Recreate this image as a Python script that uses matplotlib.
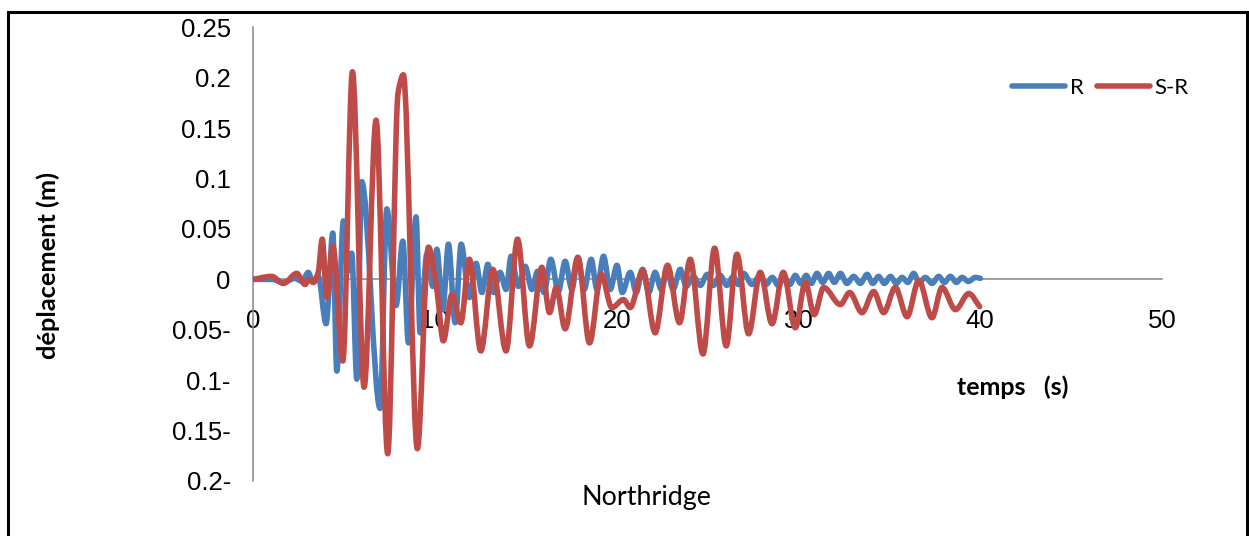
import numpy as np
import matplotlib
matplotlib.use("Agg")
import matplotlib.pyplot as plt
from matplotlib.path import Path
from matplotlib.patches import PathPatch, Rectangle
from matplotlib.lines import Line2D

# =============================================================================
# Data (turning points of each record)
# =============================================================================
t_R = [0.0, 1.05, 1.65, 2.31, 2.70, 3.04, 3.30, 3.58, 4.02, 4.39, 4.61, 4.97,
       5.22, 5.43, 5.71, 5.98, 6.99, 7.36, 7.87, 8.24, 8.55, 8.97, 9.19, 9.56,
       9.89, 10.11, 10.44, 10.75, 11.12, 11.45, 11.90, 12.27, 12.59, 12.92,
       13.23, 13.59, 13.92, 14.20, 14.60, 14.97, 15.34, 15.65, 16.01, 16.38,
       16.80, 17.17, 17.54, 17.87, 18.22, 18.60, 18.92, 19.28, 19.65, 20.02,
       20.31, 20.75, 21.08, 21.43, 21.77, 22.12, 22.45, 22.78, 23.11, 23.50,
       23.83, 24.22, 24.60, 24.99, 25.32, 25.70, 26.06, 26.42, 26.69, 26.98,
       27.45, 27.90, 28.23, 28.56, 28.89, 29.22, 29.53, 29.83, 30.13, 30.43,
       30.71, 31.02, 31.34, 31.66, 31.98, 32.31, 32.67, 33.04, 33.41, 33.78,
       34.09, 34.41, 34.73, 35.06, 35.39, 35.70, 36.02, 36.34, 36.65, 36.98,
       37.35, 37.72, 38.03, 38.36, 38.69, 39.00, 39.35, 39.74, 40.01]
d_R = [0.0, 0.0, -0.003, 0.001, -0.002, 0.007, -0.003, 0.004, -0.044, 0.046,
       -0.091, 0.058, 0.008, 0.026, -0.099, 0.097, -0.128, 0.070, -0.026,
       0.038, -0.063, 0.062, -0.053, 0.025, -0.007, 0.030, -0.030, 0.035,
       -0.043, 0.035, -0.018, 0.016, -0.013, 0.015, -0.013, 0.007, -0.010,
       0.023, -0.007, 0.013, -0.010, 0.008, -0.013, 0.020, -0.012, 0.018,
       -0.010, 0.021, -0.010, 0.020, -0.010, 0.023, -0.010, 0.014, -0.013,
       0.007, -0.013, 0.010, -0.013, 0.007, -0.010, 0.008, -0.010, 0.010,
       -0.007, 0.003, -0.006, 0.005, -0.006, 0.004, -0.006, 0.003, -0.005,
       0.006, -0.005, 0.004, -0.005, 0.002, -0.006, 0.002, -0.005, 0.004,
       -0.004, 0.004, -0.004, 0.006, -0.003, 0.006, -0.003, 0.006, -0.004,
       0.003, -0.004, 0.005, -0.004, 0.003, -0.004, 0.003, -0.004, 0.002,
       -0.003, 0.006, -0.003, 0.002, -0.004, 0.003, -0.003, 0.003, -0.003,
       0.002, -0.002, 0.002, 0.001]

t_SR = [0.0, 1.03, 1.67, 2.41, 2.86, 3.10, 3.32, 3.59, 3.81, 4.06, 4.39, 4.94,
        5.47, 6.11, 6.77, 7.41, 7.98, 8.27, 9.04, 9.65, 10.11, 10.47, 10.94,
        11.43, 11.90, 12.53, 13.19, 13.92, 14.55, 15.21, 15.89, 16.31, 16.68,
        17.17, 17.87, 18.51, 19.15, 19.74, 20.38, 20.75, 21.44, 22.12, 22.80,
        23.46, 24.05, 24.75, 25.39, 26.03, 26.62, 27.26, 27.90, 28.55, 29.17,
        29.83, 30.38, 30.87, 31.39, 32.31, 32.82, 33.50, 34.14, 34.69, 35.33,
        35.98, 36.62, 37.35, 37.90, 38.64, 39.37, 39.97]
d_SR = [0.0, 0.003, -0.004, 0.006, -0.005, 0.0, -0.003, 0.007, 0.040, -0.018,
        0.033, -0.081, 0.206, -0.107, 0.158, -0.173, 0.185, 0.203, -0.168,
        0.032, -0.010, -0.061, -0.015, -0.043, 0.020, -0.071, 0.010, -0.071,
        0.040, -0.066, 0.012, -0.033, -0.008, -0.049, 0.022, -0.063, 0.005,
        -0.028, -0.020, -0.028, 0.009, -0.053, 0.014, -0.043, 0.020, -0.074,
        0.031, -0.066, 0.025, -0.054, 0.007, -0.044, 0.007, -0.048, -0.003,
        -0.035, -0.008, -0.025, -0.013, -0.033, -0.012, -0.033, -0.008,
        -0.037, -0.001, -0.038, -0.008, -0.030, -0.014, -0.027]

series_names = ["R", "S-R"]
series_colors = ["#4A7EBB", "#BE4B48"]

x_ticks = [0, 10, 20, 30, 40, 50]
y_ticks = [0.25, 0.2, 0.15, 0.1, 0.05, 0, -0.05, -0.1, -0.15, -0.2]
y_tick_labels = ["0.25", "0.2", "0.15", "0.1", "0.05", "0",
                 "0.05-", "0.1-", "0.15-", "0.2-"]


def smooth_path(t, d):
    """Smoothed line: monotone cubic Bezier segments through every point."""
    x = np.asarray(t, float)
    y = np.asarray(d, float)
    h = np.diff(x)
    delta = np.diff(y) / h
    m = np.zeros_like(y)
    m[0], m[-1] = delta[0], delta[-1]
    for k in range(1, len(y) - 1):
        if delta[k - 1] * delta[k] > 0:
            w1 = 2 * h[k] + h[k - 1]
            w2 = h[k] + 2 * h[k - 1]
            m[k] = (w1 + w2) / (w1 / delta[k - 1] + w2 / delta[k])
    verts = [(x[0], y[0])]
    codes = [Path.MOVETO]
    for k in range(len(y) - 1):
        verts += [(x[k] + h[k] / 3, y[k] + m[k] * h[k] / 3),
                  (x[k + 1] - h[k] / 3, y[k + 1] - m[k + 1] * h[k] / 3),
                  (x[k + 1], y[k + 1])]
        codes += [Path.CURVE4] * 3
    return Path(verts, codes)


# =============================================================================
# Plotting
# =============================================================================
W, H = 1249, 536
fig = plt.figure(figsize=(W / 100, H / 100), dpi=100)
ax = fig.add_axes([253 / W, 1 - 481 / H, 909 / W, (481 - 27.4) / H])

for t, d, color in zip([t_R, t_SR], [d_R, d_SR], series_colors):
    ax.add_patch(PathPatch(smooth_path(t, d), fill=False, edgecolor=color,
                           lw=4.0, joinstyle="round", capstyle="round",
                           zorder=3))

ax.set_xlim(0, 50)
ax.set_ylim(-0.2, 0.25)

# Axis lines
for side in ["top", "right"]:
    ax.spines[side].set_visible(False)
ax.spines["bottom"].set_position(("data", 0))
for side in ["left", "bottom"]:
    ax.spines[side].set_color("#868686")
    ax.spines[side].set_linewidth(1.1)

ax.set_xticks(x_ticks)
ax.set_xticklabels([str(v) for v in x_ticks])
ax.set_yticks(y_ticks)
ax.set_yticklabels(y_tick_labels)
ax.tick_params(axis="x", length=0, pad=21.5, labelsize=18.5)
ax.tick_params(axis="y", length=0, pad=16, labelsize=18.5)
for lab in ax.get_xticklabels() + ax.get_yticklabels():
    lab.set_fontfamily("Liberation Sans")

# Legend
handles = [Line2D([], [], color=c, lw=4.0, solid_capstyle="round")
           for c in series_colors]
fig.legend(handles, series_names, loc="center left", ncol=2,
           bbox_to_anchor=(1012 / W, 1 - 88 / H), frameon=False,
           prop={"family": "Lato", "size": 16}, handlelength=2.4,
           handletextpad=0.2, columnspacing=0.6, borderpad=0,
           borderaxespad=0)

# Titles
fig.text(48 / W, 1 - 265 / H, "déplacement (m)", rotation=90, ha="center",
         va="center", fontfamily="Lato", fontweight="bold", fontsize=18.3)
fig.text(1013 / W, 1 - 387 / H, "temps   (s)", ha="center", va="center",
         fontfamily="Lato", fontweight="bold", fontsize=18)
fig.text(646 / W, 1 - 497 / H, "Northridge", ha="center", va="center",
         fontfamily="Lato", fontsize=19.4)

# Chart border
fig.patches.append(Rectangle((8 / W, -0.05), 1238.5 / W, 1.05 - 12 / H,
                             transform=fig.transFigure, fill=False,
                             edgecolor="black", lw=2.2))

fig.savefig("out.png", dpi=100)
